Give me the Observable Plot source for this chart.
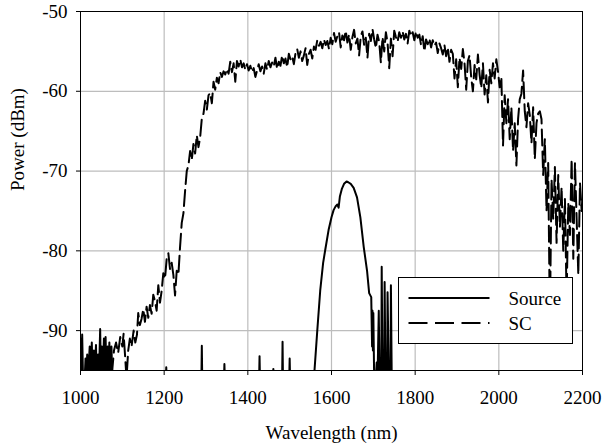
<!DOCTYPE html>
<html>
<head>
<meta charset="utf-8">
<script src="https://cdn.jsdelivr.net/npm/d3@7"></script>
<script src="https://cdn.jsdelivr.net/npm/@observablehq/plot@0.6"></script>
<style>
  html, body { margin: 0; padding: 0; background: #fff; }
  #chart { width: 602px; height: 443px; }
</style>
</head>
<body>
<div id="chart"></div>
<script>
// ---- Data ----
const xTicks = [1000, 1200, 1400, 1600, 1800, 2000, 2200];
const yTicks = [-50, -60, -70, -80, -90];
const xLabel = "Wavelength (nm)";
const yLabel = "Power (dBm)";
const seriesNames = ["Source", "SC"];

// Source (solid) : wavelength (nm)
const sourceWl = [
  1000, 1002, 1004, 1006, 1010, 1012, 1014, 1016, 1018, 1022, 1024, 1027, 1029, 1032, 1034,
  1037, 1039, 1042, 1044, 1047, 1049, 1051, 1053, 1056, 1058, 1060, 1062, 1065, 1067, 1069,
  1071, 1074, 1076,
  1204, 1205, 1206,
  1289, 1290, 1291,
  1343, 1344, 1345,
  1427, 1428, 1429,
  1460, 1461, 1462,
  1482, 1483, 1484,
  1499, 1500, 1501,
  1558, 1566, 1573, 1580, 1585, 1593, 1600, 1605, 1610, 1614, 1617, 1620, 1625, 1630, 1636,
  1640, 1646, 1653, 1661, 1669, 1677, 1685, 1690, 1695, 1697, 1698, 1699, 1700, 1702, 1706,
  1708, 1710, 1713, 1715, 1719, 1720, 1722, 1726, 1727, 1729, 1733, 1734, 1737, 1741, 1742,
  1744
];
// Source (solid) : power (dBm)
const sourcePower = [
  -91, -96, -90.5, -96, -96, -93.5, -96, -93, -96, -92, -96, -91.5, -96, -92.5, -96,
  -91.8, -96, -93, -96, -89.8, -96, -92, -96, -91, -96, -90.8, -96, -92, -96, -91.5,
  -96, -92, -96,
  -96, -94.6, -96,
  -96, -91.9, -96,
  -96, -94.2, -96,
  -96, -93.2, -96,
  -96, -94.8, -96,
  -96, -91.4, -96,
  -96, -93.5, -96,
  -96, -90, -85, -81.5, -79.9, -77.4, -75.8, -74.9, -74.4, -74.2, -74.6, -73.2, -72.2, -71.6, -71.3,
  -71.4, -71.6, -72.1, -73.3, -75.8, -79.5, -82.5, -85.3, -85.8, -92, -87.5, -92.5, -87.8, -96, -96,
  -94, -96, -87.5, -96, -96, -82, -96, -96, -83.9, -96, -96, -85.2, -96, -96, -84.3,
  -96
];

// SC (dashed) : wavelength (nm)
const scWl = [
  1075, 1080, 1085, 1090, 1095, 1100, 1103, 1107, 1110, 1114, 1118, 1122, 1127, 1131, 1135,
  1138, 1142, 1146, 1150, 1154, 1158, 1162, 1166, 1170, 1174, 1178, 1182, 1186, 1190, 1194,
  1198, 1202, 1206, 1210, 1214, 1218, 1222, 1226, 1230, 1234, 1238, 1242, 1246, 1250, 1254,
  1258, 1262, 1266, 1270, 1274, 1278, 1282, 1286, 1290, 1294, 1298, 1302, 1306, 1310, 1314,
  1318, 1322, 1326, 1330, 1334, 1338, 1342, 1346, 1350, 1354, 1358, 1362, 1366, 1370, 1374,
  1378, 1382, 1386, 1390, 1394, 1398, 1402, 1406, 1410, 1414, 1418, 1422, 1426, 1430, 1434,
  1438, 1442, 1446, 1450, 1454, 1458, 1462, 1466, 1470, 1474, 1478, 1482, 1486, 1490, 1494,
  1498, 1502, 1506, 1510, 1514, 1518, 1522, 1526, 1530, 1534, 1538, 1542, 1546, 1550, 1554,
  1558, 1562, 1566, 1570, 1574, 1578, 1582, 1586, 1590, 1594, 1598, 1602, 1606, 1610, 1614,
  1618, 1622, 1626, 1630, 1634, 1638, 1642, 1646, 1650, 1654, 1658, 1662, 1666, 1670, 1674,
  1678, 1682, 1686, 1690, 1694, 1698, 1702, 1706, 1710, 1714, 1718, 1722, 1726, 1730, 1734,
  1738, 1742, 1746, 1750, 1754, 1758, 1762, 1766, 1770, 1774, 1778, 1782, 1786, 1790, 1794,
  1798, 1802, 1806, 1810, 1814, 1818, 1822, 1826, 1830, 1834, 1838, 1842, 1846, 1850, 1854,
  1858, 1862, 1866, 1870, 1874, 1878, 1882, 1886, 1890, 1894, 1898, 1902, 1906, 1910, 1914,
  1918, 1922, 1926, 1930, 1934, 1938, 1942, 1946, 1950, 1954, 1958, 1962, 1966, 1970, 1974,
  1978, 1982, 1986, 1990, 1994, 1998, 2002, 2006, 2010, 2014, 2018, 2022, 2026, 2030, 2034,
  2038, 2042, 2046, 2050, 2054, 2058, 2062, 2066, 2070, 2074, 2078, 2082, 2086, 2090, 2094,
  2098, 2102, 2106, 2110, 2114, 2118, 2122, 2126, 2130, 2134, 2138, 2142, 2146, 2150, 2154,
  2158, 2162, 2166, 2170, 2174, 2178, 2182, 2186, 2190, 2194, 2198, 2200
];
// SC (dashed) : power (dBm)
const scPower = [
  -95.5, -92.5, -91.5, -92.8, -90.8, -92, -90.4, -93.5, -96, -92.5, -91, -92, -90, -91.5, -90.5,
  -87.8, -89.3, -88.5, -87.3, -88.9, -87, -88.4, -86.8, -87.9, -85.5, -86.3, -87.5, -84.3, -86.5, -85,
  -82.8, -83.5, -81, -80.3, -82.3, -81.5, -83, -85.6, -82.5, -83, -79.5, -76.5, -75.3, -72.5, -70,
  -69.3, -67.5, -68.6, -66.6, -67.8, -65.5, -67, -65.8, -63.4, -62.8, -61.2, -62.3, -60.5, -60.2, -61.5,
  -58.8, -59.8, -58.3, -59, -57.6, -58.2, -57.5, -57.9, -57.2, -57.8, -56.3, -57.6, -56.5, -58.8, -56.2,
  -56.9, -56, -57, -56.5, -57.3, -56.6, -57.4, -56.8, -57.6, -57.1, -58.2, -57.4, -56.6, -57.5, -56.9,
  -57.8, -56.5, -57.3, -56.2, -57, -56.4, -56.9, -55.8, -57.2, -56.3, -56.8, -55.5, -56.5, -55.9, -57,
  -55.3, -56, -55.6, -56.6, -55.2, -54.7, -55.8, -55, -56.2, -55.5, -54.6, -56.7, -55.3, -54.8, -55.9,
  -54.4, -54.8, -53.6, -54.3, -53.8, -54.6, -53.5, -54.2, -53.7, -54.7, -53.3, -54.1, -52.7, -53.8, -53.1,
  -52.6, -54.5, -53, -53.6, -52.4, -53.9, -52.9, -54.8, -53.2, -52.3, -54, -53.4, -55.5, -53.1, -52.5,
  -54.2, -53.3, -55.8, -52.8, -53.7, -52.2, -53.5, -54.6, -52.9, -53.8, -56.4, -53.2, -55, -52.6, -53.9,
  -57.1, -53.4, -55.6, -52.4, -53.2, -53.8, -52.6, -53.3, -52.5, -53.5, -52.8, -54, -52.4, -53.1, -52.6,
  -53.6, -52.5, -53.3, -52.9, -54.2, -53.1, -55, -53.5, -54.1, -53.4, -54.5, -53.6, -54.3, -53.9, -55.2,
  -54, -54.6, -55.4, -54.2, -55.6, -54.5, -56.3, -54.8, -55.3, -58.4, -56, -59.5, -55.8, -57.2, -54.7,
  -56.5, -59.8, -56.2, -55.5, -58.3, -60, -56.7, -58.5, -55.4, -57.9, -59.6, -56.5, -60.4, -58, -61.4,
  -57.3, -59, -56.5, -58.4, -56, -57.5, -59.5, -58.2, -66.8, -60.5, -64, -61, -66, -62, -67.5,
  -64, -69.3, -63.5, -61, -60.3, -57.4, -62.5, -64.5, -61.5, -63, -66.5, -62, -68.5, -64, -62.8,
  -62.5, -63.5, -70.5, -66, -75, -69, -89, -71, -76, -69.5, -79, -70.5, -77, -72, -80,
  -73.5, -86, -74, -78, -68.5, -81, -69, -76, -83, -71.5, -75, -73
];

// ---- Build tables for the library ----
const sourceData = sourceWl.map((w, i) => ({wl: w, p: sourcePower[i]}));
const scData = scWl.map((w, i) => ({wl: w, p: scPower[i]}));

const fontFamily = "'Liberation Serif', 'Times New Roman', serif";
const gridColor = "#bdbdbd";

const chart = Plot.plot({
  width: 602,
  height: 443,
  marginLeft: 80,
  marginRight: 20,
  marginTop: 11,
  marginBottom: 73,
  style: {background: "#fff", fontFamily, fontSize: "19px", color: "#000"},
  x: {domain: [1000, 2200]},
  y: {domain: [-95, -50]},
  marks: [
    Plot.ruleX(xTicks.slice(1, -1), {x: d => d, stroke: gridColor, strokeOpacity: 1, strokeWidth: 1.2}),
    Plot.ruleY(yTicks.slice(1), {y: d => d, stroke: gridColor, strokeOpacity: 1, strokeWidth: 1.2}),
    Plot.line(scData, {x: "wl", y: "p", stroke: "#000", strokeWidth: 2, strokeDasharray: "16,6", strokeLinejoin: "round", clip: true}),
    Plot.line(sourceData, {x: "wl", y: "p", stroke: "#000", strokeWidth: 2, strokeLinejoin: "round", clip: true}),
    Plot.frame({stroke: "#000", strokeWidth: 1}),
    Plot.axisX({ticks: xTicks, tickFormat: d => String(d), tickSize: 5, tickPadding: 15, label: null, fontSize: 19}),
    Plot.axisY({ticks: yTicks, tickFormat: d => String(d), tickSize: 4, tickPadding: 9, label: null, fontSize: 19}),
    Plot.text([xLabel], {frameAnchor: "bottom", dy: 62, text: d => d, fontSize: 19, lineAnchor: "middle", fill: "#000"}),
    Plot.text([yLabel], {frameAnchor: "left", dx: -63, rotate: -90, text: d => d, fontSize: 19, lineAnchor: "middle", fill: "#000"})
  ]
});

// ---- Legend (inside the plot frame, lower right) ----
const svg = d3.select(chart);
const lg = svg.append("g").attr("transform", "translate(398.5,277.5)");
lg.append("rect").attr("width", 174).attr("height", 66)
  .attr("fill", "#fff").attr("stroke", "#000").attr("stroke-width", 1);
const rows = [{y: 20.5, dash: null}, {y: 45.5, dash: "19,7.5"}];
rows.forEach((r, i) => {
  lg.append("line").attr("x1", 10).attr("x2", 91).attr("y1", r.y).attr("y2", r.y)
    .attr("stroke", "#000").attr("stroke-width", 2)
    .attr("stroke-dasharray", r.dash);
  lg.append("text").attr("x", 110).attr("y", r.y + 6.5)
    .attr("text-anchor", "start")
    .attr("font-family", fontFamily).attr("font-size", 19).attr("fill", "#000")
    .text(seriesNames[i]);
});

document.getElementById("chart").appendChild(chart);
</script>
</body>
</html>
